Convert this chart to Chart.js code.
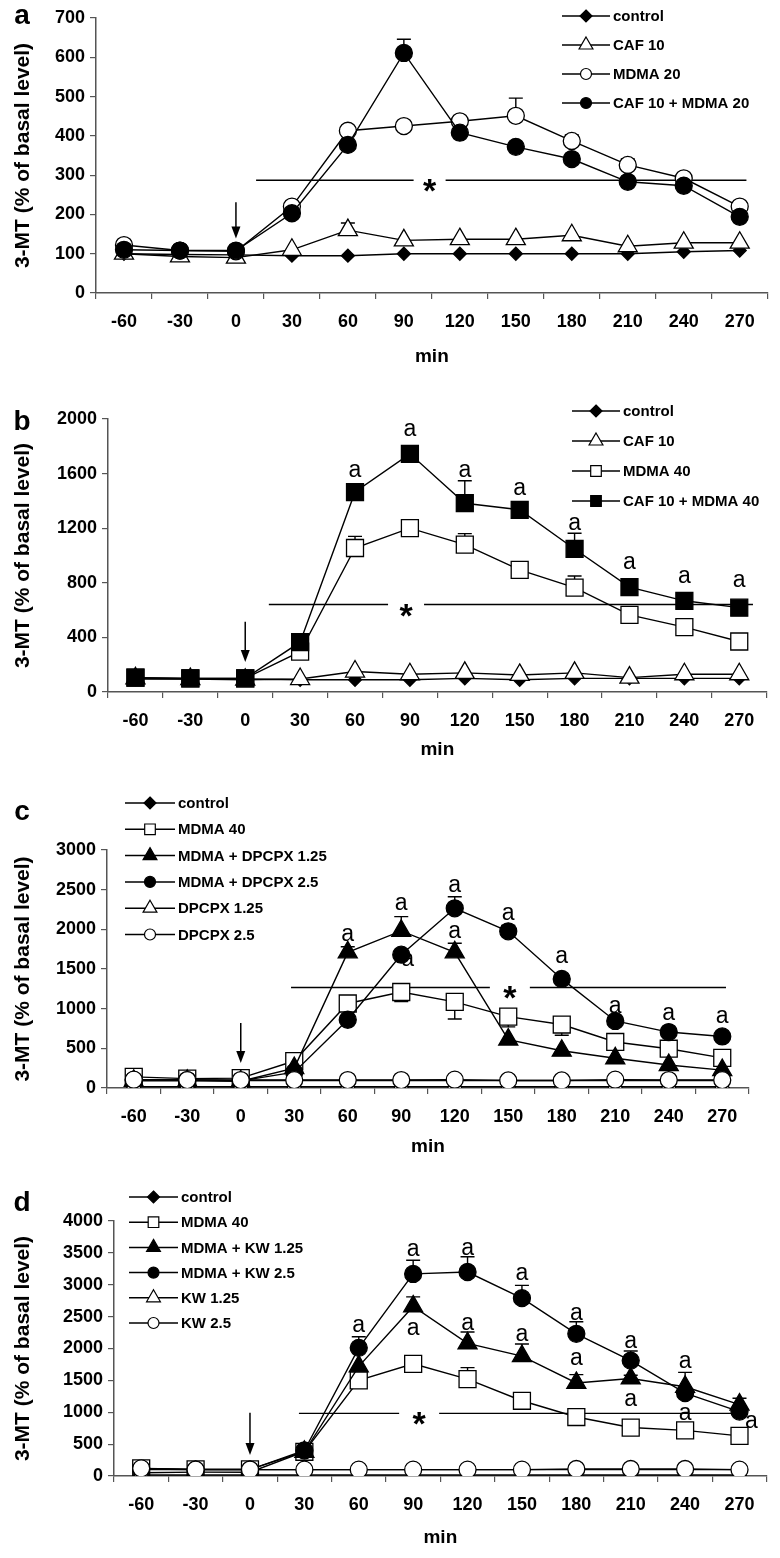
<!DOCTYPE html>
<html>
<head>
<meta charset="utf-8">
<script src="https://cdn.jsdelivr.net/npm/chart.js@4.4.1/dist/chart.umd.min.js"></script>
<style>
    html, body { margin: 0; padding: 0; background: #fff; }
    #figure { position: relative; width: 780px; height: 1558px; }
    .panel { position: absolute; left: 0; width: 780px; }
</style>
</head>
<body>
<div id="figure">
    <div class="panel" style="top:0;height:375px"><canvas id="chartA"></canvas></div>
    <div class="panel" style="top:385px;height:380px"><canvas id="chartB"></canvas></div>
    <div class="panel" style="top:770px;height:390px"><canvas id="chartC"></canvas></div>
    <div class="panel" style="top:1165px;height:393px"><canvas id="chartD"></canvas></div>
</div>
<script>
// Time points (min) - shared by all panels
const minutes = ['-60', '-30', '0', '30', '60', '90', '120', '150', '180', '210', '240', '270'];

// Panel a
const aControl   = [100, 98, 97, 95, 95, 100, 100, 100, 100, 100, 105, 108];
const aCaf10     = [100, 93, 90, 110, 160, 134, 137, 137, 147, 119, 128, 128];
const aMdma20    = [122, 108, 106, 220, 413, 425, 437, 451, 387, 326, 292, 220];
const aCafMdma20 = [110, 108, 108, 203, 377, 611, 408, 372, 341, 283, 273, 194];
const aCaf10Err     = [null, null, null, null, 18, null, null, null, null, null, null, null];
const aMdma20Err    = [null, null, null, null, null, null, 8, 45, 15, 15, 10, null];
const aCafMdma20Err = [null, null, null, null, null, 35, null, null, null, null, null, null];

// Panel b
const bControl   = [95, 95, 95, 90, 90, 90, 100, 90, 100, 100, 100, 100];
const bCaf10     = [100, 95, 90, 95, 150, 130, 140, 125, 140, 105, 130, 130];
const bMdma40    = [105, 100, 100, 295, 1055, 1200, 1080, 895, 765, 565, 475, 370];
const bCafMdma40 = [105, 100, 100, 365, 1465, 1745, 1383, 1335, 1048, 768, 668, 618];
const bMdma40Err    = [null, null, null, null, 85, 50, 80, 60, 85, null, null, null];
const bCafMdma40Err = [null, null, null, null, null, null, 165, 30, 115, null, null, null];

// Panel c
const cControl      = [100, 100, 95, 95, 95, 95, 95, 95, 95, 95, 95, 95];
const cMdma40       = [140, 118, 125, 340, 1065, 1210, 1085, 900, 800, 580, 495, 380];
const cMdmaDpcpx125 = [90, 90, 85, 250, 1710, 1980, 1710, 610, 470, 375, 290, 225];
const cMdmaDpcpx25  = [100, 100, 90, 200, 860, 1680, 2265, 1975, 1375, 845, 705, 650];
const cDpcpx125     = [15, 15, 15, 15, 15, 15, 15, 15, 15, 15, 15, 15];
const cDpcpx25      = [105, 100, 100, 100, 100, 100, 105, 95, 95, 105, 100, 100];
const cMdma40Err       = [null, null, null, null, null, -120, -215, -130, -135, null, null, null];
const cMdmaDpcpx125Err = [null, null, null, null, 70, 180, 115, null, null, null, null, null];
const cMdmaDpcpx25Err  = [null, null, null, null, null, null, 145, 75, 60, 50, null, null];

// Panel d
const dControl    = [100, 100, 100, 100, 100, 100, 100, 100, 100, 100, 100, 100];
const dMdma40     = [120, 105, 105, 380, 1500, 1760, 1520, 1180, 925, 760, 715, 630];
const dMdmaKw125  = [50, 60, 60, 380, 1720, 2660, 2080, 1880, 1460, 1530, 1400, 1120];
const dMdmaKw25   = [110, 100, 100, 400, 2010, 3170, 3200, 2790, 2230, 1810, 1300, 1010];
const dKw125      = [15, 15, 15, 15, 15, 15, 15, 15, 15, 15, 15, 15];
const dKw25       = [120, 100, 100, 100, 100, 100, 100, 100, 110, 110, 110, 100];
const dMdma40Err    = [null, null, null, null, null, null, 180, null, null, null, null, null];
const dMdmaKw125Err = [null, null, null, null, null, 150, 180, 190, 130, 50, 225, 100];
const dMdmaKw25Err  = [null, null, null, null, 175, 215, 240, 200, 190, 150, null, null];

// Significance letters ("a") : category index and value
const bLetters = [[4, 1623], [5, 1922], [6, 1623], [7, 1488], [8, 1231], [9, 947], [10, 845], [11, 813]];
const cLetters = [[4, 1936], [5, 2327], [5.12, 1612], [6, 2550], [6, 1970], [7, 2192], [8, 1654], [9, 1023], [10, 938], [11, 905]];
const dLetters = [[4, 2353], [5, 3545], [5, 2316], [6, 3571], [6, 2395], [7, 3179], [7, 2212], [8, 2552], [8, 1846],
                  [9, 2107], [9, 1192], [10, 1794], [10, 983], [11.22, 852]];

const FONT = '"Liberation Sans", Arial, sans-serif';

// Marker drawing (same geometry as Chart.js point styles)
function drawMarker(ctx, style, cx, cy, r, filled) {
    ctx.beginPath();
    if (style === 'circle') {
        ctx.arc(cx, cy, r, 0, Math.PI * 2);
    } else if (style === 'rect') {
        const s = r * Math.SQRT1_2;
        ctx.rect(cx - s, cy - s, 2 * s, 2 * s);
    } else if (style === 'rectRot') {
        ctx.moveTo(cx, cy - r);
        ctx.lineTo(cx + r, cy);
        ctx.lineTo(cx, cy + r);
        ctx.lineTo(cx - r, cy);
    } else if (style === 'triangle') {
        ctx.moveTo(cx, cy - r);
        ctx.lineTo(cx + r * 0.866, cy + r * 0.5);
        ctx.lineTo(cx - r * 0.866, cy + r * 0.5);
    }
    ctx.closePath();
    ctx.fillStyle = filled ? '#000' : '#fff';
    ctx.fill();
    ctx.stroke();
}

// Plugin: error bars, significance line, arrow, letters, legend, panel label
const figureExtras = {
    id: 'figureExtras',
    beforeDatasetsDraw(chart, args, opts) {
        const {ctx, scales: {x, y}} = chart;
        ctx.save();
        ctx.strokeStyle = '#000';
        ctx.lineWidth = 1.4;

        // error bars
        chart.data.datasets.forEach(ds => {
            if (!ds.errors) return;
            ds.errors.forEach((e, j) => {
                if (e == null) return;
                const px = x.getPixelForValue(j);
                const y0 = y.getPixelForValue(ds.data[j]);
                const y1 = y.getPixelForValue(ds.data[j] + e);
                ctx.beginPath();
                ctx.moveTo(px, y0);
                ctx.lineTo(px, y1);
                ctx.moveTo(px - 7, y1);
                ctx.lineTo(px + 7, y1);
                ctx.stroke();
            });
        });

        // significance line with star
        const sig = opts.sig;
        if (sig) {
            const ly = y.getPixelForValue(sig.value);
            const x0 = x.getPixelForValue(sig.from);
            const x1 = x.getPixelForValue(sig.to);
            const xs = x.getPixelForValue(sig.star);
            ctx.beginPath();
            ctx.moveTo(x0, ly);
            ctx.lineTo(xs - sig.gap, ly);
            ctx.moveTo(xs + sig.gap, ly);
            ctx.lineTo(x1, ly);
            ctx.stroke();
            ctx.fillStyle = '#000';
            ctx.font = 'bold 34px ' + FONT;
            ctx.textAlign = 'center';
            ctx.textBaseline = 'alphabetic';
            ctx.fillText('*', xs, ly + 22);
        }
        ctx.restore();
    },
    afterDatasetsDraw(chart, args, opts) {
        const {ctx, scales: {x, y}} = chart;
        ctx.save();
        ctx.strokeStyle = '#000';
        ctx.fillStyle = '#000';

        // arrow marking injection time
        const ar = opts.arrow;
        if (ar) {
            const ax = x.getPixelForValue(ar.index);
            const ay0 = y.getPixelForValue(ar.from);
            const ay1 = y.getPixelForValue(ar.to);
            ctx.lineWidth = 1.5;
            ctx.beginPath();
            ctx.moveTo(ax, ay0);
            ctx.lineTo(ax, ay1 - 10);
            ctx.stroke();
            ctx.beginPath();
            ctx.moveTo(ax, ay1);
            ctx.lineTo(ax - 4.5, ay1 - 12);
            ctx.lineTo(ax + 4.5, ay1 - 12);
            ctx.closePath();
            ctx.fill();
        }

        // "a" letters
        if (opts.letters) {
            ctx.font = '23px ' + FONT;
            ctx.textAlign = 'center';
            ctx.textBaseline = 'middle';
            opts.letters.forEach(([i, v]) => {
                ctx.fillText('a', x.getPixelForValue(i), y.getPixelForValue(v));
            });
        }

        // legend (line + marker + label)
        const lg = opts.legend;
        if (lg) {
            ctx.font = 'bold 15px ' + FONT;
            ctx.textAlign = 'left';
            ctx.textBaseline = 'middle';
            chart.data.datasets.forEach((ds, k) => {
                const ly = lg.y + k * lg.dy;
                ctx.lineWidth = 1.5;
                ctx.beginPath();
                ctx.moveTo(lg.x, ly);
                ctx.lineTo(lg.x + lg.len, ly);
                ctx.stroke();
                ctx.lineWidth = 1.2;
                drawMarker(ctx, ds.pointStyle, lg.x + lg.len / 2, ly, ds.legendRadius, ds.filled);
                ctx.fillStyle = '#000';
                ctx.fillText(ds.label, lg.x + lg.len + 3, ly + 1);
            });
        }

        // panel letter
        if (opts.letter) {
            ctx.fillStyle = '#000';
            ctx.font = 'bold 28px ' + FONT;
            ctx.textAlign = 'center';
            ctx.textBaseline = 'middle';
            ctx.fillText(opts.letter.text, opts.letter.x, opts.letter.y);
        }
        ctx.restore();
    }
};

// Series styles
function series(label, data, style, filled, radius, legendRadius, errors) {
    return {
        label: label,
        data: data,
        pointStyle: style,
        filled: filled,
        radius: radius,
        legendRadius: legendRadius,
        errors: errors || null
    };
}

function makeChart(canvasId, cfg) {
    const n = cfg.series.length;
    const datasets = cfg.series.map((s, i) => ({
        label: s.label,
        data: s.data,
        errors: s.errors,
        filled: s.filled,
        legendRadius: s.legendRadius,
        borderColor: '#000',
        borderWidth: 1.4,
        pointStyle: s.pointStyle,
        pointRadius: s.radius,
        pointHoverRadius: s.radius,
        pointBackgroundColor: s.filled ? '#000' : '#fff',
        pointBorderColor: '#000',
        pointBorderWidth: 1.3,
        tension: 0,
        fill: false,
        order: n - i
    }));

    const tickFont = {family: FONT, size: 18, weight: 'bold'};
    const titleFont = {family: FONT, size: 21, weight: 'bold'};
    const minFont = {family: FONT, size: 19, weight: 'bold'};

    return new Chart(document.getElementById(canvasId), {
        type: 'line',
        data: {labels: minutes, datasets: datasets},
        plugins: [figureExtras],
        options: {
            responsive: true,
            maintainAspectRatio: false,
            animation: false,
            events: [],
            layout: {padding: {top: cfg.padTop, right: cfg.padRight, left: 0, bottom: 0}},
            plugins: {
                legend: {display: false},
                tooltip: {enabled: false},
                figureExtras: {
                    sig: cfg.sig,
                    arrow: cfg.arrow,
                    letters: cfg.letters,
                    legend: cfg.legend,
                    letter: cfg.letter
                }
            },
            scales: {
                x: {
                    type: 'category',
                    offset: true,
                    grid: {display: true, drawOnChartArea: false, drawTicks: true, tickLength: 6, offset: true, color: '#555', lineWidth: 1.2},
                    border: {display: true, color: '#555', width: 1.5},
                    ticks: {font: tickFont, color: '#000', padding: 12, maxRotation: 0, autoSkip: false},
                    title: {display: true, text: 'min', font: minFont, color: '#000', padding: {top: 0, bottom: cfg.minPad}},
                    afterFit: scale => { scale.height = cfg.xHeight; }
                },
                y: {
                    min: 0,
                    max: cfg.yMax,
                    ticks: {stepSize: cfg.yStep, font: tickFont, color: '#000', padding: 5, callback: v => String(v)},
                    grid: {display: true, drawOnChartArea: false, drawTicks: true, tickLength: 6, color: '#555', lineWidth: 1.2},
                    border: {display: true, color: '#555', width: 1.5},
                    title: {display: true, text: '3-MT (% of basal level)', font: titleFont, color: '#000', padding: {top: 11, bottom: 0}},
                    afterFit: scale => { scale.width = cfg.left; }
                }
            }
        }
    });
}

// Panel a
makeChart('chartA', {
    padTop: 18, padRight: 4, left: 96, xHeight: 82, minPad: 7,
    yMax: 700, yStep: 100,
    series: [
        series('control', aControl, 'rectRot', true, 6.5, 6),
        series('CAF 10', aCaf10, 'triangle', false, 11, 8, aCaf10Err),
        series('MDMA 20', aMdma20, 'circle', false, 8.5, 5.5, aMdma20Err),
        series('CAF 10 + MDMA 20', aCafMdma20, 'circle', true, 8.5, 5.5, aCafMdma20Err)
    ],
    sig: {from: 2.36, to: 11.12, star: 5.46, gap: 16, value: 287},
    arrow: {index: 2, from: 231, to: 139},
    legend: {x: 562, y: 16, dy: 29, len: 48},
    letter: {text: 'a', x: 22, y: 16}
});

// Panel b
makeChart('chartB', {
    padTop: 34, padRight: 5, left: 108, xHeight: 73, minPad: 4,
    yMax: 2000, yStep: 400,
    series: [
        series('control', bControl, 'rectRot', true, 6.5, 6),
        series('CAF 10', bCaf10, 'triangle', false, 11, 8),
        series('MDMA 40', bMdma40, 'rect', false, 12, 7.5, bMdma40Err),
        series('CAF 10 + MDMA 40', bCafMdma40, 'rect', true, 12, 7.5, bCafMdma40Err)
    ],
    sig: {from: 2.43, to: 11.25, star: 4.93, gap: 18, value: 641},
    arrow: {index: 2, from: 514, to: 220},
    letters: bLetters,
    legend: {x: 572, y: 26, dy: 30, len: 48},
    letter: {text: 'b', x: 22, y: 37}
});

// Panel c
makeChart('chartC', {
    padTop: 80, padRight: 31, left: 107, xHeight: 72, minPad: 2,
    yMax: 3000, yStep: 500,
    series: [
        series('control', cControl, 'rectRot', true, 6.5, 6),
        series('MDMA 40', cMdma40, 'rect', false, 12, 7.5, cMdma40Err),
        series('MDMA + DPCPX 1.25', cMdmaDpcpx125, 'triangle', true, 11, 8, cMdmaDpcpx125Err),
        series('MDMA + DPCPX 2.5', cMdmaDpcpx25, 'circle', true, 8.5, 5.5, cMdmaDpcpx25Err),
        series('DPCPX 1.25', cDpcpx125, 'triangle', false, 11, 8),
        series('DPCPX 2.5', cDpcpx25, 'circle', false, 8.5, 5.5)
    ],
    sig: {from: 2.94, to: 11.07, star: 7.03, gap: 20, value: 1267},
    arrow: {index: 2, from: 820, to: 316},
    letters: cLetters,
    legend: {x: 125, y: 33, dy: 26.3, len: 50},
    letter: {text: 'c', x: 22, y: 42}
});

// Panel d
makeChart('chartD', {
    padTop: 56, padRight: 3, left: 114, xHeight: 82, minPad: 9,
    yMax: 4000, yStep: 500,
    series: [
        series('control', dControl, 'rectRot', true, 6.5, 6),
        series('MDMA 40', dMdma40, 'rect', false, 12, 7.5, dMdma40Err),
        series('MDMA + KW 1.25', dMdmaKw125, 'triangle', true, 11, 8, dMdmaKw125Err),
        series('MDMA + KW 2.5', dMdmaKw25, 'circle', true, 8.5, 5.5, dMdmaKw25Err),
        series('KW 1.25', dKw125, 'triangle', false, 11, 8),
        series('KW 2.5', dKw25, 'circle', false, 8.5, 5.5)
    ],
    sig: {from: 2.90, to: 10.97, star: 5.11, gap: 20, value: 983},
    arrow: {index: 2, from: 994, to: 330},
    letters: dLetters,
    legend: {x: 129, y: 32, dy: 25.2, len: 49},
    letter: {text: 'd', x: 22, y: 38}
});
</script>
</body>
</html>
